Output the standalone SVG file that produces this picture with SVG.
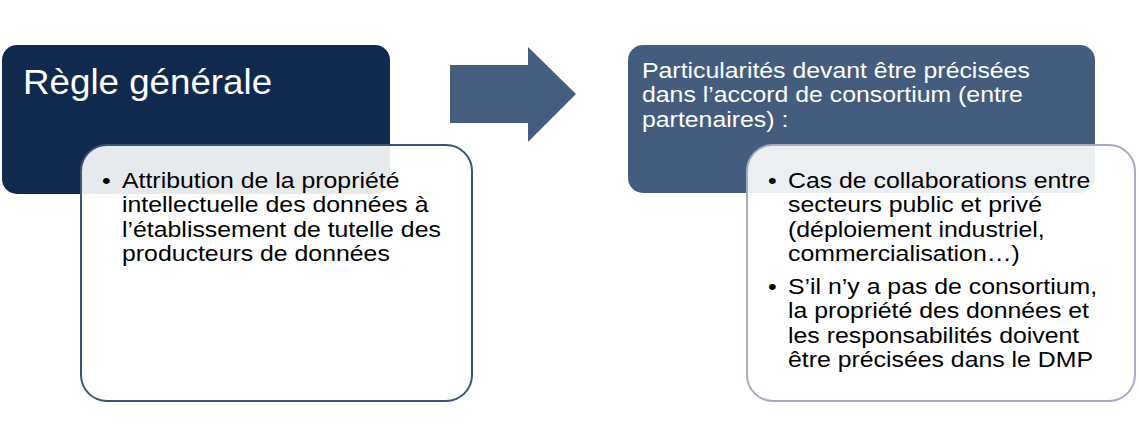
<svg xmlns="http://www.w3.org/2000/svg" width="1138" height="446" viewBox="0 0 1138 446">
<style>
.t{font-family:"Liberation Sans",Arial,sans-serif;font-size:22.8px}
.w{fill:#ffffff}
.k{fill:#000000}
.card{fill:#ffffff;fill-opacity:0.9;stroke-width:2}
</style>
<rect width="1138" height="446" fill="#ffffff"/>
<g id="regle-generale">
<rect x="2" y="45" width="388" height="149" rx="15" fill="#0f2a4e"/>
<text class="t w" style="font-size:34.5px" transform="translate(23,94) scale(1.065,1)">Règle générale</text>
</g>
<g id="regle-detail">
<rect class="card" x="81" y="145" width="391" height="256" rx="26" stroke="#3c5474"/>
<text class="t k" transform="translate(102,188) scale(1.09,1)">•</text>
<text class="t k" transform="translate(122,188) scale(1.09,1)"><tspan x="0" y="0">Attribution de la propriété</tspan><tspan x="0" y="24.5">intellectuelle des données à</tspan><tspan x="0" y="49">l’établissement de tutelle des</tspan><tspan x="0" y="73.5">producteurs de données</tspan></text>
</g>
<g id="connectors">
<polygon points="450,65 528,65 528,47 576,94 528,142 528,123 450,123" fill="#455e80"/>
</g>
<g id="particularites">
<rect x="628" y="45" width="467" height="148" rx="15" fill="#445d7e"/>
<text class="t w" transform="translate(642,78) scale(1.09,1)"><tspan x="0" y="0">Particularités devant être précisées</tspan><tspan x="0" y="24.5">dans l’accord de consortium (entre</tspan><tspan x="0" y="49">partenaires) :</tspan></text>
</g>
<g id="particularites-detail">
<rect class="card" x="747" y="145" width="388" height="256" rx="26" stroke="#a3adbc"/>
<text class="t k" transform="translate(768,188) scale(1.09,1)">•</text>
<text class="t k" transform="translate(788,188) scale(1.09,1)"><tspan x="0" y="0">Cas de collaborations entre</tspan><tspan x="0" y="24.3">secteurs public et privé</tspan><tspan x="0" y="48.6">(déploiement industriel,</tspan><tspan x="0" y="72.9">commercialisation…)</tspan></text>
<text class="t k" transform="translate(768,294) scale(1.09,1)">•</text>
<text class="t k" transform="translate(788,294) scale(1.09,1)"><tspan x="0" y="0">S’il n’y a pas de consortium,</tspan><tspan x="0" y="24.3">la propriété des données et</tspan><tspan x="0" y="48.6">les responsabilités doivent</tspan><tspan x="0" y="72.9">être précisées dans le DMP</tspan></text>
</g>
</svg>
